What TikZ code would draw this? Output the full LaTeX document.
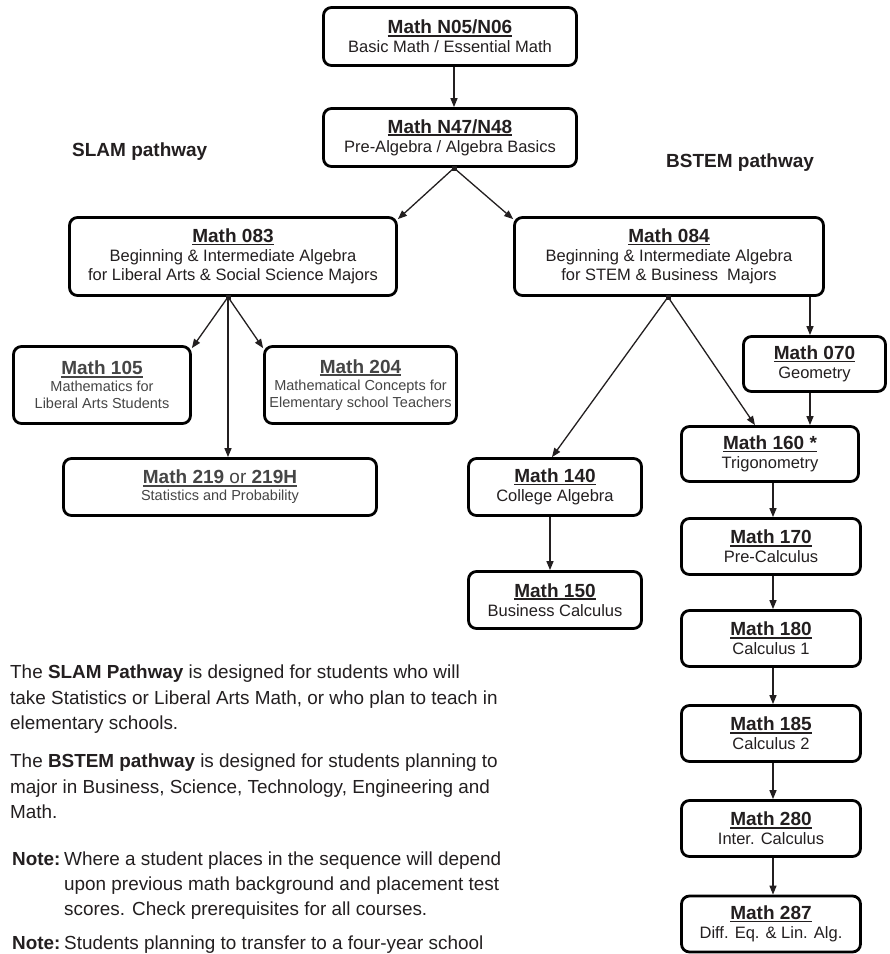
\documentclass[tikz,border=0pt]{standalone}
\usepackage{fontspec}
\setmainfont{Liberation Sans}
\usetikzlibrary{arrows.meta,calc}
\definecolor{textcol}{HTML}{231F20}
\definecolor{greytext}{HTML}{454545}
\newcommand\ulinetitle[1]{\setbox0=\hbox{#1}\leavevmode\rlap{\rule[-2.8pt]{\wd0}{1.9pt}}\box0}
\newcommand\ctitle[1]{{\fontsize{19}{19}\selectfont\bfseries\ulinetitle{#1}}}
\tikzset{
  course/.style={draw=black, line width=2.8pt, rounded corners=8pt, align=center,
    inner sep=0pt, text=textcol, font=\fontsize{16.5}{19}\selectfont},
  smallcourse/.style={course, text=greytext, font=\fontsize{14.5}{17}\selectfont},
  arr/.style={line width=1.3pt, draw=textcol, -{Triangle[length=9pt,width=7pt]}},
  bpt/.style={rectangle, fill=textcol, inner sep=0pt, minimum size=5pt},
  bodytext/.style={inner sep=0pt, anchor=base west, text=textcol, font=\fontsize{18.9}{22}\selectfont},
  pathlbl/.style={inner sep=0pt, anchor=base west, text=textcol, font=\fontsize{19}{19}\selectfont\bfseries}
}
\begin{document}
\begin{tikzpicture}[x=1pt,y=-1pt]
\useasboundingbox (0,0) rectangle (890,954);
\fill[white] (0,0) rectangle (890,954);

% pathway labels
\node[pathlbl] (slam) at (72,156) {SLAM pathway};
\node[pathlbl] (bstem) at (666,167) {BSTEM pathway};

% top boxes
\node[course, minimum width=253pt, minimum height=58pt] (n05) at (450,36.5)
  {\ctitle{Math N05/N06}\\ Basic Math / Essential Math};
\node[course, minimum width=253pt, minimum height=58pt] (n47) at (450,137.5)
  {\ctitle{Math N47/N48}\\ Pre-Algebra / Algebra Basics};

\node[course, minimum width=327pt, minimum height=78pt] (m083) at (233,256.5)
  {\ctitle{Math 083}\\ Beginning \& Intermediate Algebra\\ for Liberal Arts \& Social Science Majors};
\node[course, minimum width=309pt, minimum height=78pt] (m084) at (669,256.5)
  {\ctitle{Math 084}\\ Beginning \& Intermediate Algebra\\ for STEM \& Business\ \ Majors};

% SLAM branch
\node[smallcourse, minimum width=177pt, minimum height=77pt] (m105) at (102,385)
  {\ctitle{Math 105}\\ Mathematics for\\ Liberal Arts Students};
\node[smallcourse, minimum width=192pt, minimum height=77pt] (m204) at (360.5,385)
  {\ctitle{Math 204}\\ Mathematical Concepts for\\ Elementary school Teachers};
\node[smallcourse, minimum width=313pt, minimum height=57pt] (m219) at (220,487)
  {\ctitle{Math 219 {\mdseries or} 219H}\\ Statistics and Probability};

% BSTEM branch
\node[course, minimum width=142pt, minimum height=55pt] (m070) at (814.5,364)
  {\ctitle{Math 070}\\ Geometry};
\node[course, minimum width=177pt, minimum height=55pt] (m160) at (770,454)
  {\ctitle{Math 160 *}\\ Trigonometry};
\node[course, minimum width=173pt, minimum height=57pt] (m140) at (555,487)
  {\ctitle{Math 140}\\ College Algebra};
\node[course, minimum width=173pt, minimum height=57pt] (m150) at (555,600)
  {\ctitle{Math 150}\\ Business Calculus};
\node[course, minimum width=179pt, minimum height=56pt] (m170) at (771,546.5)
  {\ctitle{Math 170}\\ Pre-Calculus};
\node[course, minimum width=179pt, minimum height=56pt] (m180) at (771,638.5)
  {\ctitle{Math 180}\\ Calculus 1};
\node[course, minimum width=179pt, minimum height=56pt] (m185) at (771,733.5)
  {\ctitle{Math 185}\\ Calculus 2};
\node[course, minimum width=179pt, minimum height=56pt] (m280) at (771,828.5)
  {\ctitle{Math 280}\\ Inter. Calculus};
\node[course, minimum width=179pt, minimum height=56pt] (m287) at (771,924)
  {\ctitle{Math 287}\\ Diff. Eq. \& Lin. Alg.};

% branch points
\node[bpt] (b1) at (454,168) {};
\node[bpt] (b2) at (228,297) {};
\node[bpt] (b3) at (668,297) {};
\coordinate (xa) at (454,0);
\coordinate (xg) at (810,0);
\coordinate (xc) at (773,0);
\coordinate (xb) at (550,0);

% connectors
\draw[arr] (n05.south -| xa) -- (n47.north -| xa);
\draw[arr] (b1.center) -- ($(m083.north east)+(0,3)$);
\draw[arr] (b1.center) -- ($(m084.north west)+(0,3)$);
\draw[arr] (b2.center) -- ($(m105.north east)+(0,3)$);
\draw[arr] (b2.center) -- ($(m204.north west)+(0,3)$);
\draw[arr] (b2.center) -- (m219.north -| b2);
\draw[arr] (b3.center) -- ($(m140.north)+(-3,0)$);
\draw[arr] (b3.center) -- ($(m160.north)+(-15,0)$);
\draw[arr] (m084.south -| xg) -- (m070.north -| xg);
\draw[arr] (m070.south -| xg) -- (m160.north -| xg);
\draw[arr] (m140.south -| xb) -- (m150.north -| xb);
\draw[arr] (m160.south -| xc) -- (m170.north -| xc);
\draw[arr] (m170.south -| xc) -- (m180.north -| xc);
\draw[arr] (m180.south -| xc) -- (m185.north -| xc);
\draw[arr] (m185.south -| xc) -- (m280.north -| xc);
\draw[arr] (m280.south -| xc) -- (m287.north -| xc);

% body text
\node[bodytext] (p1a) at (10,678) {The \textbf{SLAM Pathway} is designed for students who will};
\node[bodytext] (p1b) at (10,704) {take Statistics or Liberal Arts Math, or who plan to teach in};
\node[bodytext] (p1c) at (10,729) {elementary schools.};
\node[bodytext] (p2a) at (10,767) {The \textbf{BSTEM pathway} is designed for students planning to};
\node[bodytext] (p2b) at (10,793) {major in Business, Science, Technology, Engineering and};
\node[bodytext] (p2c) at (10,818) {Math.};
\node[bodytext] (n1h) at (12,865) {\textbf{Note:}};
\node[bodytext] (n1a) at (64,865) {Where a student places in the sequence will depend};
\node[bodytext] (n1b) at (64,890) {upon previous math background and placement test};
\node[bodytext] (n1c) at (64,915) {scores. Check prerequisites for all courses.};
\node[bodytext] (n2h) at (12,949) {\textbf{Note:}};
\node[bodytext] (n2a) at (64,949) {Students planning to transfer to a four-year school};
\end{tikzpicture}
\end{document}
